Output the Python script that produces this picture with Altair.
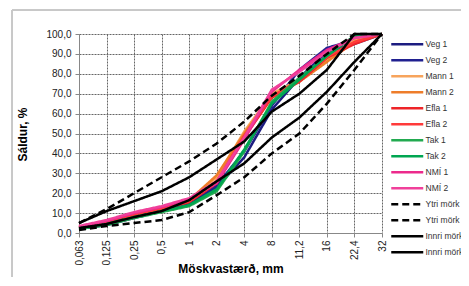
import altair as alt
import pandas as pd

sizes = ["0,063", "0,125", "0,25", "0,5", "1", "2", "4", "8", "11,2", "16", "22,4", "32"]
series_names = ["Veg 1", "Veg 2", "Mann 1", "Mann 2", "Efla 1", "Efla 2", "Tak 1", "Tak 2",
                "NMÍ 1", "NMÍ 2", "Ytri mörk", "Ytri mörk ", "Innri mörk", "Innri mörk "]

veg1 = [2, 4, 7.5, 11, 15, 23, 38, 62, 78, 91, 95, 100]
veg2 = [2.5, 4.5, 8, 11.5, 15.5, 24, 41, 64, 82, 93, 97, 100]
mann1 = [2.5, 5, 8.5, 12, 16, 28, 51, 70, 77, 87, 97, 100]
mann2 = [3, 5.5, 9, 12.5, 16.5, 29, 50, 69, 76, 86, 96, 100]
efla1 = [2.5, 5, 8.5, 12, 15.5, 25, 48, 68, 76, 88, 95, 100]
efla2 = [3, 5.5, 9, 12.5, 16, 26, 49, 68.5, 77, 88.5, 96, 100]
tak1 = [2, 4, 7.5, 10.5, 13.5, 21, 41, 66, 78, 89, 99, 100]
tak2 = [2.5, 4.5, 8, 11, 14, 22, 42, 65, 77, 89, 99, 100]
nmi1 = [3, 6, 10, 13, 17, 25, 47, 71, 82, 92, 98, 100]
nmi2 = [3.5, 6.5, 10.5, 13.5, 17.5, 26, 48, 72, 81, 91, 98, 100]
ytri_upper = [5, 12, 20, 28, 36, 45, 56, 69, 79, 90, 100, 100]
ytri_lower = [1.5, 3.5, 5, 6.5, 10.5, 19, 28, 40, 50, 65, 82, 100]
innri_upper = [5, 11, 16, 21, 28, 37, 46, 61, 70, 82, 100, 100]
innri_lower = [2.5, 4.5, 8, 11, 16.5, 26, 35, 48, 58, 71, 86, 100]

series_values = [veg1, veg2, mann1, mann2, efla1, efla2, tak1, tak2, nmi1, nmi2,
                 ytri_upper, ytri_lower, innri_upper, innri_lower]

colors = ["#1C1C80", "#202090", "#F7A45C", "#EE7D2A", "#EE2428", "#FF3A3A",
          "#22AA50", "#00A651", "#EC2A8C", "#F0409A", "#000000", "#000000", "#000000", "#000000"]
dashes = [[1, 0]] * 10 + [[7, 4], [7, 4], [1, 0], [1, 0]]
widths = [2.5] * 10 + [2.8, 2.8, 1.5, 2.2]

rows = []
for name, vals in zip(series_names, series_values):
    for s, v in zip(sizes, vals):
        rows.append({"size": s, "value": v, "series": name})
df = pd.DataFrame(rows)

FONT = "Liberation Sans"

legend = alt.Legend(
    title=None, orient="none", legendX=324, legendY=6,
    symbolType="M-8,0H8", symbolSize=16, labelFontSize=8.5, labelColor="#333333",
    labelFont=FONT, rowPadding=5, padding=0, labelOffset=14,
)

lines = alt.Chart(df).mark_line(clip=False).encode(
    x=alt.X("size:N", sort=sizes,
            scale=alt.Scale(type="point", padding=0),
            axis=alt.Axis(title="Möskvastærð, mm", labelAngle=-90, labelFontSize=10,
                          labelFont=FONT, labelColor="#222222", titleFont=FONT,
                          titleFontSize=12, titleFontWeight="bold", titleY=30,
                          grid=True, gridColor="#666666", gridDash=[2, 1],
                          domainColor="#888888", tickColor="#888888", tickSize=4,
                          labelPadding=3)),
    y=alt.Y("value:Q", scale=alt.Scale(domain=[0, 100]),
            axis=alt.Axis(title="Sáldur, %", values=list(range(0, 101, 10)),
                          labelExpr="replace(format(datum.value, '.1f'), '.', ',')",
                          labelFontSize=10, labelFont=FONT, labelColor="#222222",
                          titleFont=FONT, titleFontSize=12, titleFontWeight="bold",
                          titleX=-50, titleY=100, grid=True, gridColor="#666666",
                          gridDash=[2, 1], domainColor="#888888", tickColor="#888888",
                          tickSize=4, labelPadding=4)),
    color=alt.Color("series:N", sort=series_names,
                    scale=alt.Scale(domain=series_names, range=colors), legend=legend),
    strokeDash=alt.StrokeDash("series:N", sort=series_names,
                              scale=alt.Scale(domain=series_names, range=dashes), legend=legend),
    strokeWidth=alt.StrokeWidth("series:O", sort=series_names,
                                scale=alt.Scale(domain=series_names, range=widths), legend=legend),
)

border_top = alt.Chart(df).mark_rule(color="#C8C8C8", strokeWidth=1).encode(
    x=alt.value(-67), x2=alt.value(400), y=alt.value(-24))
border_left = alt.Chart(df).mark_rule(color="#C8C8C8", strokeWidth=1).encode(
    x=alt.value(-67), y=alt.value(-24), y2=alt.value(260))

chart = alt.layer(border_top, border_left, lines).properties(
    width=303, height=199,
    autosize=alt.AutoSizeParams(type="none"),
    padding={"left": 71, "top": 26, "right": 79, "bottom": 44},
    background="white",
).configure_view(stroke=None)

chart.save("out.html", embed_options={"renderer": "svg", "actions": False})
